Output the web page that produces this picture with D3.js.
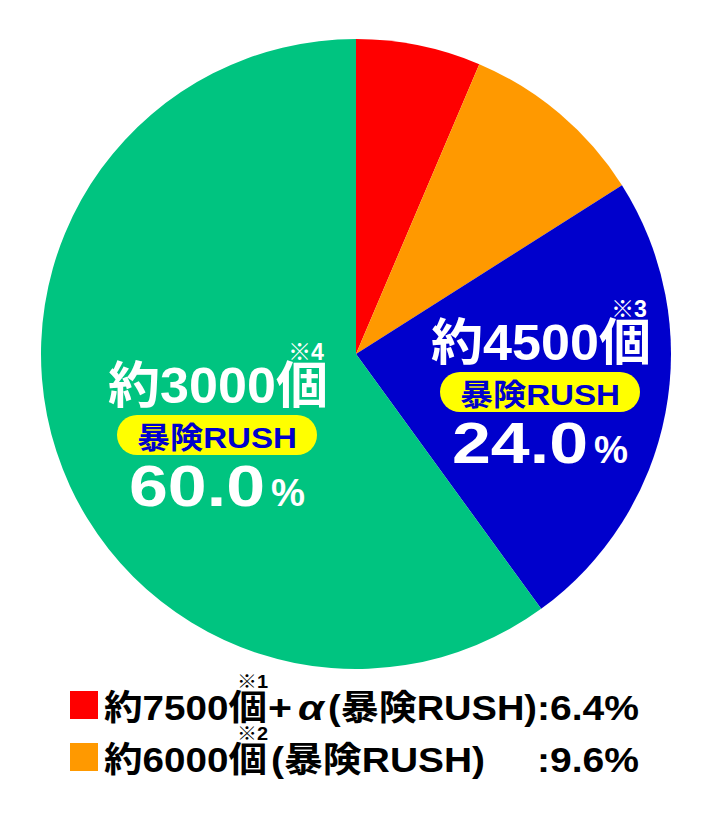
<!DOCTYPE html>
<html><head><meta charset="utf-8">
<script src="https://cdn.jsdelivr.net/npm/d3@7"></script>
<style>
html,body{margin:0;padding:0;background:#fff;}
svg text{font-family:"Liberation Sans","Noto Sans CJK JP",sans-serif;font-weight:bold;}
</style></head>
<body>
<svg id="c" width="712" height="816"></svg>
<script>
// ---- data ----
const categories = ["約7500個+α(暴険RUSH)", "約6000個(暴険RUSH)", "約4500個", "約3000個"];
const values = [6.4, 9.6, 24.0, 60.0];
const colors = ["#FF0000", "#FF9900", "#0000CC", "#00C480"];
const notes = ["1", "2", "3", "4"];
const noteMark = "※";
const rushLabel = "暴険RUSH";

const svg = d3.select("#c");
const cx = 356, cy = 354, R = 315;

const pie = d3.pie().sort(null).value(d => d);
const arcs = pie(values);
const arc = d3.arc().innerRadius(0).outerRadius(R);

const g = svg.append("g").attr("transform", `translate(${cx},${cy})`);
g.selectAll("path").data(arcs).join("path")
  .attr("d", arc).attr("fill", (d, i) => colors[i]);

function note(sel, x, y, size, w, color, num) {
  const t = sel.append("text").attr("x", x).attr("y", y).attr("fill", color)
    .style("font-size", size + "px")
    .attr("textLength", w).attr("lengthAdjust", "spacingAndGlyphs");
  t.append("tspan").style("font-family", "'Noto Sans CJK JP'").style("font-weight", "normal")
    .text(noteMark);
  t.append("tspan").text(num);
  return t;
}

// ---- in-slice labels (blue & green) ----
const labelAnchors = {2: [540, 392], 3: [217, 435]};
const fmt = d3.format(".1f");
Object.entries(labelAnchors).forEach(([k, [ax, ay]]) => {
  const i = +k;
  const lg = svg.append("g").attr("transform", `translate(${ax},${ay})`);
  lg.append("text").attr("x", -109).attr("y", -32).attr("font-size", 50)
    .attr("fill", "#fff").attr("textLength", 220).attr("lengthAdjust", "spacingAndGlyphs")
    .text(categories[i]);
  note(lg, 71, -75, 23, 36, "#fff", notes[i]);
  lg.append("rect").attr("x", -100).attr("y", -20).attr("width", 200).attr("height", 40)
    .attr("rx", 20).attr("fill", "#FFFF00");
  lg.append("text").attr("x", -80).attr("y", 13).attr("font-size", 30)
    .attr("fill", "#0000CC").attr("textLength", 160).attr("lengthAdjust", "spacingAndGlyphs")
    .text(rushLabel);
  lg.append("text").attr("x", -88).attr("y", 71).attr("font-size", 57)
    .attr("fill", "#fff").attr("textLength", 136).attr("lengthAdjust", "spacingAndGlyphs")
    .text(fmt(values[i]));
  lg.append("text").attr("x", 54).attr("y", 71).attr("font-size", 39)
    .attr("fill", "#fff").attr("textLength", 34).attr("lengthAdjust", "spacingAndGlyphs")
    .text("%");
});

// ---- legend ----
const legendRows = [
  {i: 0, y: 720, parts: [
    {t: "約7500個", x: 104, w: 163},
    {t: "+", x: 268, w: 24},
    {t: "α", x: 298, w: 26, italic: true},
    {t: "(暴険RUSH)", x: 328, w: 209},
    {t: ":" + fmt(values[0]) + "%", x: 537, w: 102}
  ]},
  {i: 1, y: 772, parts: [
    {t: "約6000個", x: 104, w: 163},
    {t: "(暴険RUSH)", x: 271, w: 214},
    {t: ":" + fmt(values[1]) + "%", x: 537, w: 102}
  ]}
];
legendRows.forEach(row => {
  svg.append("rect").attr("x", 70).attr("y", row.y - 29).attr("width", 28).attr("height", 28)
    .attr("fill", colors[row.i]);
  row.parts.forEach(p => {
    svg.append("text").attr("x", p.x).attr("y", row.y).attr("font-size", 35)
      .attr("fill", "#000").attr("font-style", p.italic ? "italic" : null)
      .attr("textLength", p.w).attr("lengthAdjust", "spacingAndGlyphs").text(p.t);
  });
  note(svg, 237, row.y - 32, 18, 31, "#000", notes[row.i]);
});
</script>
</body></html>
